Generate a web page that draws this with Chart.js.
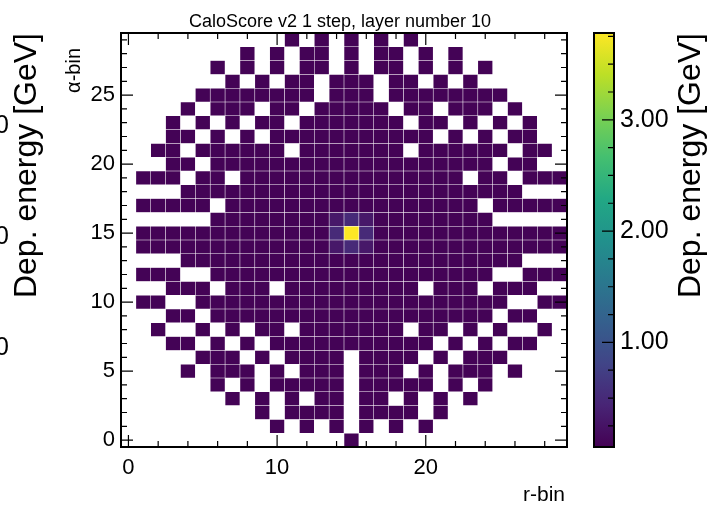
<!DOCTYPE html>
<html>
<head>
<meta charset="utf-8">
<script src="https://cdn.jsdelivr.net/npm/chart.js@4.4.1/dist/chart.umd.min.js"></script>
<style>
  html, body { margin: 0; padding: 0; background: #fff; }
</style>
</head>
<body>
<canvas id="caloChart" width="711" height="506"></canvas>
<script>
// occupancy of the 30 x 30 grid (r-bin across, alpha-bin down), first row is alpha-bin 29
// '.' = empty bin, any other char is an energy level code
const gridRows = [
  '...........#.#.#.#.#..........',
  '........#.#.##.#.##.#.#.......',
  '......#.#.#.##.#.##.#.#.#.....',
  '.......#.#.##.###.##.#.#......',
  '.....########.###.########....',
  '....#.###.##.#####.##.###.#...',
  '...#.#.#.##.#######.##.#.#.#..',
  '...##.#.#.###########.#.#.##..',
  '..##.######.#######.######.##.',
  '...##.###################.##..',
  '.###.##.###############.##.###',
  '....#######################...',
  '.#####.#################.#####',
  '......########aba########.....',
  '.#############bYb#############',
  '.#############aba#############',
  '....#######################...',
  '.###..###################..###',
  '...###.###.#########.###.###..',
  '.##..#####################..##',
  '...##.###################.##..',
  '..#..#.#.##.#######.##.#.#..#.',
  '...##.#.#.###########.#.#.##..',
  '.....###.#.####.####.#.###....',
  '....#.###.#.###.###.#.###.#...',
  '......#.#.#####.#####.#.#.....',
  '.......#.#.#.##.##.#.#.#......',
  '.........#.####.####.#........',
  '..........#.#.#.#.#.#.........',
  '...............#..............'
];
const levelCodes = ['#', 'a', 'b', 'Y'];
const levelValues = [0.08, 0.3, 0.5, 3.78];   // GeV

const xTicks = [0, 10, 20];
const yTicks = [0, 5, 10, 15, 20, 25];
const cbTicks = [1, 2, 3];
const cbRange = [0.06, 3.78];
const sideLabels = ['3.00', '2.00', '1.00'];   // cut-off labels of the neighbouring panel

const titleText = 'CaloScore v2 1 step, layer number 10';
const FONT = '"Liberation Sans", Arial, sans-serif';

const viridis = ['#440154', '#482475', '#414487', '#355f8d', '#2a788e', '#21918c',
                 '#22a884', '#44bf70', '#7ad151', '#bddf26', '#fde725'];

function hexToRgb(h) {
  return [parseInt(h.slice(1, 3), 16), parseInt(h.slice(3, 5), 16), parseInt(h.slice(5, 7), 16)];
}

function colourFor(v) {
  let t = (v - cbRange[0]) / (cbRange[1] - cbRange[0]);
  t = Math.max(0, Math.min(1, t));
  const pos = t * (viridis.length - 1);
  const i = Math.min(Math.floor(pos), viridis.length - 2);
  const f = pos - i;
  const a = hexToRgb(viridis[i]), b = hexToRgb(viridis[i + 1]);
  return 'rgb(' + a.map((c, k) => Math.round(c + (b[k] - c) * f)).join(',') + ')';
}

// build the cells, each one a floating bar one bin tall
const cells = [];
gridRows.forEach((row, k) => {
  const alpha = gridRows.length - 1 - k;
  for (let r = 0; r < row.length; r++) {
    const idx = levelCodes.indexOf(row[r]);
    if (idx < 0) continue;
    cells.push({ x: r, y: [alpha - 0.5, alpha + 0.5], v: levelValues[idx] });
  }
});

function drawRotated(ctx, text, x, y, align) {
  ctx.save();
  ctx.translate(x, y);
  ctx.rotate(-Math.PI / 2);
  ctx.textAlign = align;
  ctx.textBaseline = 'alphabetic';
  ctx.fillText(text, 0, 0);
  ctx.restore();
}

const decorPlugin = {
  id: 'decor',
  afterDraw(chart) {
    const ctx = chart.ctx;
    const { left, right, top, bottom } = chart.chartArea;
    const xs = chart.scales.x, ys = chart.scales.y, cs = chart.scales.cb;

    ctx.save();
    ctx.strokeStyle = '#000';
    ctx.fillStyle = '#000';

    // inward ticks on all four sides
    ctx.lineWidth = 1.2;
    ctx.beginPath();
    for (let v = 0; v <= 29; v += 2) {
      const px = xs.getPixelForValue(v);
      const len = xTicks.includes(v) ? 12 : 6;
      ctx.moveTo(px, bottom); ctx.lineTo(px, bottom - len);
      ctx.moveTo(px, top); ctx.lineTo(px, top + len);
    }
    for (let v = 0; v <= 29; v += 1) {
      const py = ys.getPixelForValue(v);
      const len = yTicks.includes(v) ? 12 : 6;
      ctx.moveTo(left, py); ctx.lineTo(left + len, py);
      ctx.moveTo(right, py); ctx.lineTo(right - len, py);
    }
    ctx.stroke();

    // frame
    ctx.lineWidth = 2;
    ctx.strokeRect(left, top, right - left, bottom - top);

    // colour bar
    const cbLeft = 594, cbWidth = 20;
    const cbTop = cs.getPixelForValue(cbRange[1]);
    const cbBottom = cs.getPixelForValue(cbRange[0]);
    const grad = ctx.createLinearGradient(0, cbBottom, 0, cbTop);
    viridis.forEach((c, i) => grad.addColorStop(i / (viridis.length - 1), c));
    ctx.fillStyle = grad;
    ctx.fillRect(cbLeft, cbTop, cbWidth, cbBottom - cbTop);
    ctx.lineWidth = 1.2;
    ctx.beginPath();
    for (let v = 0.25; v < cbRange[1]; v += 0.25) {
      const py = cs.getPixelForValue(v);
      const len = cbTicks.includes(v) ? 12 : 6;
      ctx.moveTo(cbLeft + cbWidth, py); ctx.lineTo(cbLeft + cbWidth - len, py);
    }
    ctx.stroke();
    ctx.lineWidth = 2;
    ctx.strokeRect(cbLeft, cbTop, cbWidth, cbBottom - cbTop);

    // texts
    ctx.fillStyle = '#000';
    ctx.font = '18px ' + FONT;
    ctx.textAlign = 'center';
    ctx.textBaseline = 'alphabetic';
    ctx.fillText(titleText, (left + right) / 2 - 4, 27);

    ctx.font = '21px ' + FONT;
    ctx.textAlign = 'right';
    ctx.fillText('r-bin', right - 2, 501);

    ctx.font = '20px ' + FONT;
    drawRotated(ctx, '\u03b1-bin', 80, 48, 'right');

    ctx.font = '32px ' + FONT;
    drawRotated(ctx, 'Dep. energy [GeV]', 700, top, 'right');
    drawRotated(ctx, 'Dep. energy [GeV]', 36, top, 'right');

    ctx.font = '25px ' + FONT;
    ctx.textAlign = 'right';
    ctx.textBaseline = 'middle';
    sideLabels.forEach((t, i) => {
      ctx.fillText(t, 9, cs.getPixelForValue(cbTicks[cbTicks.length - 1 - i]) + 6);
    });
    ctx.restore();
  }
};

const tickFont = { family: FONT, size: 22 };

function fitVertical(width) {
  return s => { s.width = width; s.paddingTop = 0; s.paddingBottom = 0; };
}

new Chart(document.getElementById('caloChart').getContext('2d'), {
  type: 'bar',
  data: {
    datasets: [{
      data: cells,
      backgroundColor: c => (c.raw ? colourFor(c.raw.v) : 'transparent'),
      borderColor: 'rgba(255,255,255,0.06)',
      borderWidth: 0.6,
      borderSkipped: false,
      barPercentage: 1,
      categoryPercentage: 1,
      grouped: false
    }]
  },
  options: {
    responsive: false,
    animation: false,
    layout: { padding: { top: 33, left: 0, right: 0, bottom: 0 } },
    plugins: { legend: { display: false }, tooltip: { enabled: false }, title: { display: false } },
    scales: {
      x: {
        type: 'linear', min: -0.5, max: 29.5, offset: false,
        grid: { display: false, drawTicks: false, offset: false },
        border: { display: false },
        ticks: { padding: 8, font: tickFont, color: '#000', maxRotation: 0 },
        afterBuildTicks: s => { s.ticks = xTicks.map(v => ({ value: v })); },
        afterFit: s => { s.height = 59; s.paddingLeft = 0; s.paddingRight = 0; }
      },
      y: {
        type: 'linear', min: -0.5, max: 29.5,
        grid: { display: false, drawTicks: false },
        border: { display: false },
        ticks: { padding: 6, font: tickFont, color: '#000' },
        afterBuildTicks: s => { s.ticks = yTicks.map(v => ({ value: v })); },
        afterFit: fitVertical(121)
      },
      cb: {
        type: 'linear', position: 'right', min: cbRange[0], max: cbRange[1],
        grid: { display: false, drawTicks: false },
        border: { display: false },
        ticks: { padding: 53, font: { family: FONT, size: 25 }, color: '#000',
                 callback: v => v.toFixed(2) },
        afterBuildTicks: s => { s.ticks = cbTicks.map(v => ({ value: v })); },
        afterFit: fitVertical(144)
      }
    }
  },
  plugins: [decorPlugin]
});
</script>
</body>
</html>
